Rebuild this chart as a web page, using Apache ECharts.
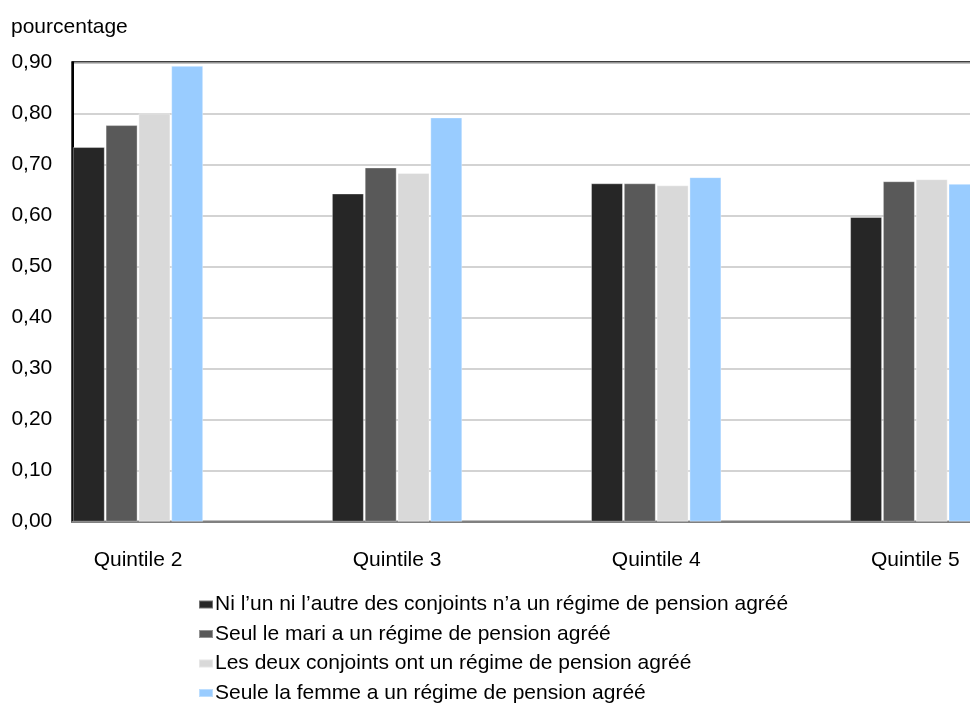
<!DOCTYPE html>
<html>
<head>
<meta charset="utf-8">
<script src="https://cdn.jsdelivr.net/npm/echarts@6/dist/echarts.min.js"></script>
<style>
  html, body { margin: 0; padding: 0; background: #fff; }
  #chart { width: 970px; height: 705px; }
</style>
</head>
<body>
<div id="chart"></div>
<script>
// Catégories (quintiles de revenu)
const categories = ['Quintile 2', 'Quintile 3', 'Quintile 4', 'Quintile 5'];

// Noms des séries
const seriesNames = [
  'Ni l\u2019un ni l\u2019autre des conjoints n\u2019a un régime de pension agréé',
  'Seul le mari a un régime de pension agréé',
  'Les deux conjoints ont un régime de pension agréé',
  'Seule la femme a un régime de pension agréé'
];

// Valeurs par série (une valeur par quintile)
const niLunNiLautre = [0.734, 0.643, 0.663, 0.597];
const seulMari      = [0.777, 0.694, 0.663, 0.667];
const lesDeux       = [0.800, 0.683, 0.659, 0.671];
const seuleFemme    = [0.893, 0.792, 0.675, 0.662];

// Graduations de l'axe vertical
const yMin = 0;
const yMax = 0.9;
const yStep = 0.1;

const colors = ['#262626', '#595959', '#d9d9d9', '#99ccff'];
const FONT = 'Liberation Sans, Arial, sans-serif';
const FONT_SIZE = 21;

const plotTop = 62.3;
const plotHeight = 459.4;

const chart = echarts.init(document.getElementById('chart'), null, { renderer: 'canvas' });

const values = [niLunNiLautre, seulMari, lesDeux, seuleFemme];

chart.setOption({
  backgroundColor: '#ffffff',
  animation: false,
  textStyle: { fontFamily: FONT },
  title: {
    text: 'pourcentage',
    left: 11,
    top: 17,
    padding: 0,
    textStyle: { fontFamily: FONT, fontSize: FONT_SIZE, fontWeight: 'normal', color: '#000' }
  },
  legend: {
    orient: 'vertical',
    left: 198,
    top: 594,
    height: 130,
    padding: 0,
    itemWidth: 14,
    itemHeight: 8,
    itemGap: 8.5,
    icon: 'rect',
    selectedMode: false,
    data: seriesNames,
    textStyle: { fontFamily: FONT, fontSize: FONT_SIZE, color: '#000', lineHeight: 21, padding: [0, 0, 0, -3] }
  },
  grid: [
    // grille des barres : bandes de catégories pleines
    { left: 8.45, top: plotTop, width: 1036.4, height: plotHeight, outerBoundsMode: 'none', containLabel: false },
    // cadre visible : axe vertical, lignes de quadrillage, bordure
    { left: 72.3, top: plotTop, right: -6, height: plotHeight, outerBoundsMode: 'none', containLabel: false,
      show: true, borderColor: '#000', borderWidth: 2, backgroundColor: 'transparent' }
  ],
  xAxis: [
    {
      type: 'category',
      gridIndex: 0,
      data: categories,
      axisLine: { show: false },
      axisTick: { show: false },
      axisLabel: { margin: 28, fontFamily: FONT, fontSize: FONT_SIZE, color: '#000' },
      splitLine: { show: false }
    },
    {
      type: 'value',
      gridIndex: 1,
      min: 0,
      max: 1,
      axisLine: { show: true, lineStyle: { color: '#808080', width: 2 } },
      axisTick: { show: false },
      axisLabel: { show: false },
      splitLine: { show: false }
    }
  ],
  yAxis: [
    {
      type: 'value',
      gridIndex: 0,
      min: yMin,
      max: yMax,
      interval: yStep,
      show: false
    },
    {
      type: 'value',
      gridIndex: 1,
      min: yMin,
      max: yMax,
      interval: yStep,
      axisLine: { show: true, lineStyle: { color: '#000', width: 2 } },
      axisTick: { show: false },
      axisLabel: {
        margin: 20,
        fontFamily: FONT,
        fontSize: FONT_SIZE,
        color: '#000',
        formatter: v => v.toFixed(2).replace('.', ',')
      },
      splitLine: { show: true, lineStyle: { color: '#c4c4c4', width: 1.5 } }
    }
  ],
  series: seriesNames.map((name, i) => ({
    name: name,
    type: 'bar',
    xAxisIndex: 0,
    yAxisIndex: 0,
    data: values[i],
    barWidth: 32,
    barGap: '2.5%',
    itemStyle: {
      color: colors[i],
      borderColor: 'rgba(255,255,255,0.35)',
      borderWidth: 1
    },
    z: 3
  }))
});
</script>
</body>
</html>
